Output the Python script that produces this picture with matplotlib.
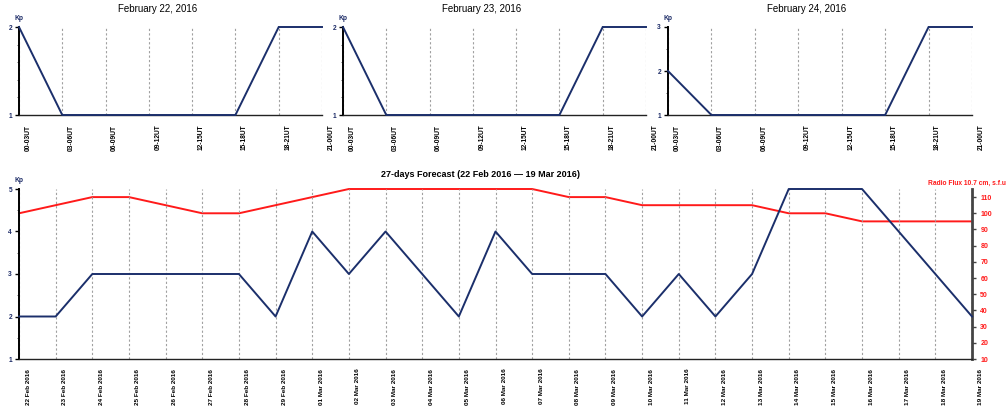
import matplotlib
matplotlib.use("Agg")
import matplotlib.pyplot as plt
from matplotlib.ticker import MultipleLocator
from matplotlib.transforms import ScaledTranslation

plt.rcParams['font.family'] = ['Liberation Sans', 'DejaVu Sans']

# ---- data ----
hour_labels = ["00-03UT", "03-06UT", "06-09UT", "09-12UT", "12-15UT", "15-18UT", "18-21UT", "21-00UT"]
day_titles = ["February 22, 2016", "February 23, 2016", "February 24, 2016"]
kp_feb22 = [2, 1, 1, 1, 1, 1, 2, 2]
kp_feb23 = [2, 1, 1, 1, 1, 1, 2, 2]
kp_feb24 = [2, 1, 1, 1, 1, 1, 3, 3]
day_ylims = [(1, 2), (1, 2), (1, 3)]

date_labels = ["22 Feb 2016", "23 Feb 2016", "24 Feb 2016", "25 Feb 2016", "26 Feb 2016",
               "27 Feb 2016", "28 Feb 2016", "29 Feb 2016", "01 Mar 2016", "02 Mar 2016",
               "03 Mar 2016", "04 Mar 2016", "05 Mar 2016", "06 Mar 2016", "07 Mar 2016",
               "08 Mar 2016", "09 Mar 2016", "10 Mar 2016", "11 Mar 2016", "12 Mar 2016",
               "13 Mar 2016", "14 Mar 2016", "15 Mar 2016", "16 Mar 2016", "17 Mar 2016",
               "18 Mar 2016", "19 Mar 2016"]
kp_27 = [2, 2, 3, 3, 3, 3, 3, 2, 4, 3, 4, 3, 2, 4, 3, 3, 3, 2, 3, 2, 3, 5, 5, 5, 4, 3, 2]
flux_27 = [100, 105, 110, 110, 105, 100, 100, 105, 110, 115, 115, 115, 115, 115, 115,
           110, 110, 105, 105, 105, 105, 100, 100, 95, 95, 95, 95]

BLUE = '#1b2f6b'
RED = '#ff1a1a'
NAVY_TXT = '#1b2a66'

W, H = 1008, 419
fig = plt.figure(figsize=(W / 100, H / 100), dpi=100)

def fr(x0, y0, x1, y1):
    return [x0 / W, 1 - y1 / H, (x1 - x0) / W, (y1 - y0) / H]

def shift_labels(ax, fig, dx_px):
    off = ScaledTranslation(dx_px / 100, 0, fig.dpi_scale_trans)
    for lab in ax.get_xticklabels():
        lab.set_transform(lab.get_transform() + off)

def style_common(ax):
    for s in ['top', 'right']:
        ax.spines[s].set_visible(False)
    ax.spines['left'].set_color('black')
    ax.spines['left'].set_linewidth(1.4)
    ax.spines['bottom'].set_color('#222222')
    ax.spines['bottom'].set_linewidth(1.0)
    ax.xaxis.grid(True, linestyle=(0, (2, 2)), color='#a0a0a0', linewidth=0.8)
    ax.yaxis.grid(False)
    ax.tick_params(axis='x', length=0, pad=7)
    ax.tick_params(axis='y', which='major', length=3, width=1, colors='black',
                   labelcolor=NAVY_TXT, labelsize=4.8, pad=2)
    ax.tick_params(axis='y', which='minor', length=1.5, width=0.6, colors='#444444')
    for lab in ax.get_yticklabels():
        lab.set_fontweight('bold')

# ---- top panels ----
panel_px = [(19, 27, 322, 115), (343, 27, 646, 115), (668, 27, 972, 115)]
top_series = [kp_feb22, kp_feb23, kp_feb24]
for i in range(3):
    ax = fig.add_axes(fr(*panel_px[i]))
    x = list(range(len(hour_labels)))
    ax.plot(x, top_series[i], color=BLUE, linewidth=1.4, solid_joinstyle='miter', clip_on=False, zorder=3)
    ax.set_xlim(0, len(hour_labels) - 1)
    ax.set_ylim(*day_ylims[i])
    ax.set_xticks(x)
    ax.set_xticklabels(hour_labels, rotation=90, fontsize=4.8, fontweight='bold', va='top')
    ax.set_yticks(range(day_ylims[i][0], day_ylims[i][1] + 1))
    ax.yaxis.set_minor_locator(MultipleLocator(0.2 if day_ylims[i][1] - day_ylims[i][0] == 1 else 0.5))
    style_common(ax)
    shift_labels(ax, fig, 9)
    ax.set_title(day_titles[i], fontsize=7, pad=11, x=0.456)
    ax.text(0, 1.06, "Kp", transform=ax.transAxes, ha='center', va='bottom',
            fontsize=4.8, fontweight='bold', color=NAVY_TXT)

# ---- bottom panel ----
ax = fig.add_axes(fr(19, 189, 972, 359))
x = list(range(len(date_labels)))
ax2 = ax.twinx()
ax2.plot(x, flux_27, color=RED, linewidth=1.4, clip_on=False, zorder=2)
ax2.set_ylim(10, 115)
ax2.set_yticks(range(10, 111, 10))
for s in ['top', 'left', 'bottom']:
    ax2.spines[s].set_visible(False)
ax2.spines['right'].set_color('#444444')
ax2.spines['right'].set_linewidth(2.0)
ax2.tick_params(axis='y', length=3, width=1, colors='#444444', labelcolor=RED,
                labelsize=5, pad=3)
for lab in ax2.get_yticklabels():
    lab.set_fontweight('bold')

ax.plot(x, kp_27, color=BLUE, linewidth=1.4, clip_on=False, zorder=3)
ax.set_zorder(ax2.get_zorder() + 1)
ax.patch.set_visible(False)
ax.set_xlim(0, len(date_labels) - 1)
ax.set_ylim(1, 5)
ax.set_yticks([1, 2, 3, 4, 5])
ax.yaxis.set_minor_locator(MultipleLocator(0.5))
ax.set_xticks(x)
ax.set_xticklabels(date_labels, rotation=90, fontsize=4.6, fontweight='bold', va='top')
style_common(ax)
ax.spines['right'].set_visible(False)
shift_labels(ax, fig, 9)
ax.set_title("27-days Forecast (22 Feb 2016 \u2014 19 Mar 2016)", fontsize=6.5,
             fontweight='bold', pad=9, x=0.484)
ax.text(0, 1.03, "Kp", transform=ax.transAxes, ha='center', va='bottom',
        fontsize=4.8, fontweight='bold', color=NAVY_TXT)
fig.text(1006 / W, 1 - 183 / H, "Radio Flux 10.7 cm, s.f.u", ha='right', va='center',
         fontsize=4.8, fontweight='bold', color=RED)

fig.savefig("out.png", dpi=100)
